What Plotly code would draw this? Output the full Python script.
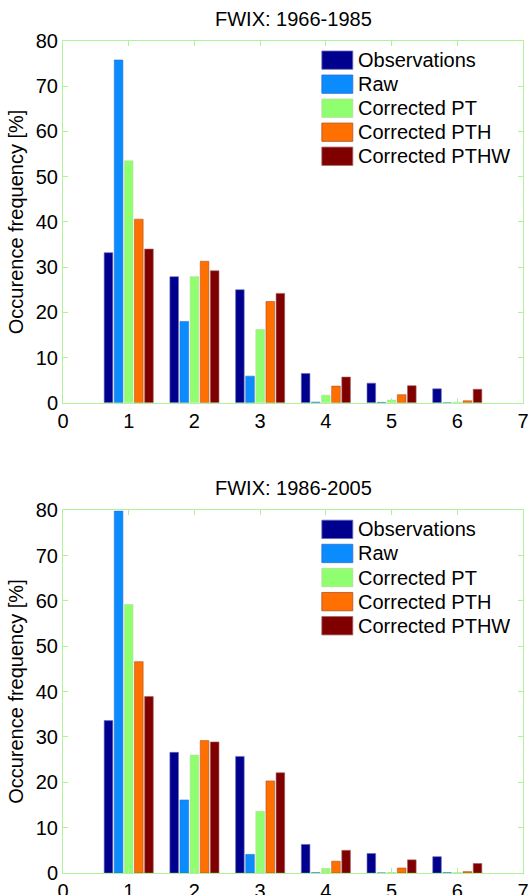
import plotly.graph_objects as go
from plotly.subplots import make_subplots

# FWIX class (x) and occurrence frequency [%] per data set
classes = [1, 2, 3, 4, 5, 6]
series_names = ["Observations", "Raw", "Corrected PT", "Corrected PTH", "Corrected PTHW"]
series_colors = ["#00008f", "#0a8cff", "#8fff70", "#ff7000", "#800000"]
edge_colors = ["#6c6cb8", "#2a6fd0", "#b8d8a0", "#b0502a", "#a06060"]

# 1966-1985
obs_1966 = [33.2, 27.9, 25.0, 6.5, 4.35, 3.1]
raw_1966 = [75.8, 18.0, 5.9, 0.15, 0.1, 0.0]
pt_1966 = [53.5, 27.9, 16.2, 1.7, 0.6, 0.15]
pth_1966 = [40.6, 31.3, 22.4, 3.7, 1.8, 0.45]
pthw_1966 = [34.0, 29.2, 24.2, 5.7, 3.8, 3.0]

# 1986-2005
obs_1986 = [33.6, 26.6, 25.7, 6.3, 4.3, 3.6]
raw_1986 = [79.8, 16.1, 4.1, 0.05, 0.0, 0.05]
pt_1986 = [59.2, 26.0, 13.6, 1.0, 0.1, 0.05]
pth_1986 = [46.6, 29.2, 20.3, 2.6, 1.1, 0.3]
pthw_1986 = [38.9, 28.9, 22.1, 5.0, 2.9, 2.1]

panels = [
    ("FWIX: 1966-1985", [obs_1966, raw_1966, pt_1966, pth_1966, pthw_1966]),
    ("FWIX: 1986-2005", [obs_1986, raw_1986, pt_1986, pth_1986, pthw_1986]),
]

x_ticks = [0, 1, 2, 3, 4, 5, 6, 7]
y_ticks = [0, 10, 20, 30, 40, 50, 60, 70, 80]

FONT = "Liberation Sans, Arial, sans-serif"
FRAME = "#aef29a"

fig = make_subplots(rows=2, cols=1)

for row, (title, data) in enumerate(panels, start=1):
    for name, vals, col, edge in zip(series_names, data, series_colors, edge_colors):
        fig.add_trace(
            go.Bar(
                x=classes, y=vals, name=name,
                marker=dict(color=col, line=dict(color=edge, width=0.6)),
                showlegend=False,
            ),
            row=row, col=1,
        )

# axis domains (paper fractions)
fig.update_layout(
    xaxis=dict(domain=[0, 1]), yaxis=dict(domain=[0.5651, 1.0]),
    xaxis2=dict(domain=[0, 1]), yaxis2=dict(domain=[0.0, 0.4361]),
)

axis_common = dict(
    showline=True, linecolor=FRAME, linewidth=1, mirror="ticks",
    ticks="inside", ticklen=5, tickcolor=FRAME, tickwidth=1,
    showgrid=False, zeroline=False, automargin=False,
    tickfont=dict(family=FONT, size=20, color="black"),
)
for r in (1, 2):
    fig.update_xaxes(range=[0, 7], tickvals=x_ticks, row=r, col=1, **axis_common)
    fig.update_yaxes(
        range=[0, 80], tickvals=y_ticks, row=r, col=1,
        title=dict(text="Occurence frequency [%]", font=dict(family=FONT, size=20, color="black"), standoff=6),
        **axis_common,
    )

annotations = []
shapes = []
for r, (title, _) in enumerate(panels, start=1):
    suffix = "" if r == 1 else "2"
    xd, yd = f"x{suffix} domain", f"y{suffix} domain"
    # panel title
    annotations.append(dict(
        text=title, xref=xd, yref=yd, x=0.5, y=1.0, yshift=22,
        xanchor="center", yanchor="middle", showarrow=False,
        font=dict(family=FONT, size=20, color="black"),
    ))
    # legend block in the upper right
    for i, (name, col, edge) in enumerate(zip(series_names, series_colors, edge_colors)):
        top = 0.9724 - i * 0.0664
        shapes.append(dict(
            type="rect", xref=xd, yref=yd,
            x0=0.5627, x1=0.630, y0=top - 0.0506, y1=top,
            fillcolor=col, line=dict(color=edge, width=0.8),
        ))
        annotations.append(dict(
            text=name, xref=xd, yref=yd, x=0.638, y=top - 0.0253,
            xanchor="left", yanchor="middle", showarrow=False,
            font=dict(family=FONT, size=20, color="black"),
        ))

fig.update_layout(
    width=529, height=895,
    margin=dict(l=62.7, r=6, t=41, b=22.3, autoexpand=False),
    paper_bgcolor="white", plot_bgcolor="white",
    barmode="group", bargap=0.23, bargroupgap=0.15,
    showlegend=False,
    annotations=annotations, shapes=shapes,
    font=dict(family=FONT, color="black"),
)

fig.write_html("out.html")
